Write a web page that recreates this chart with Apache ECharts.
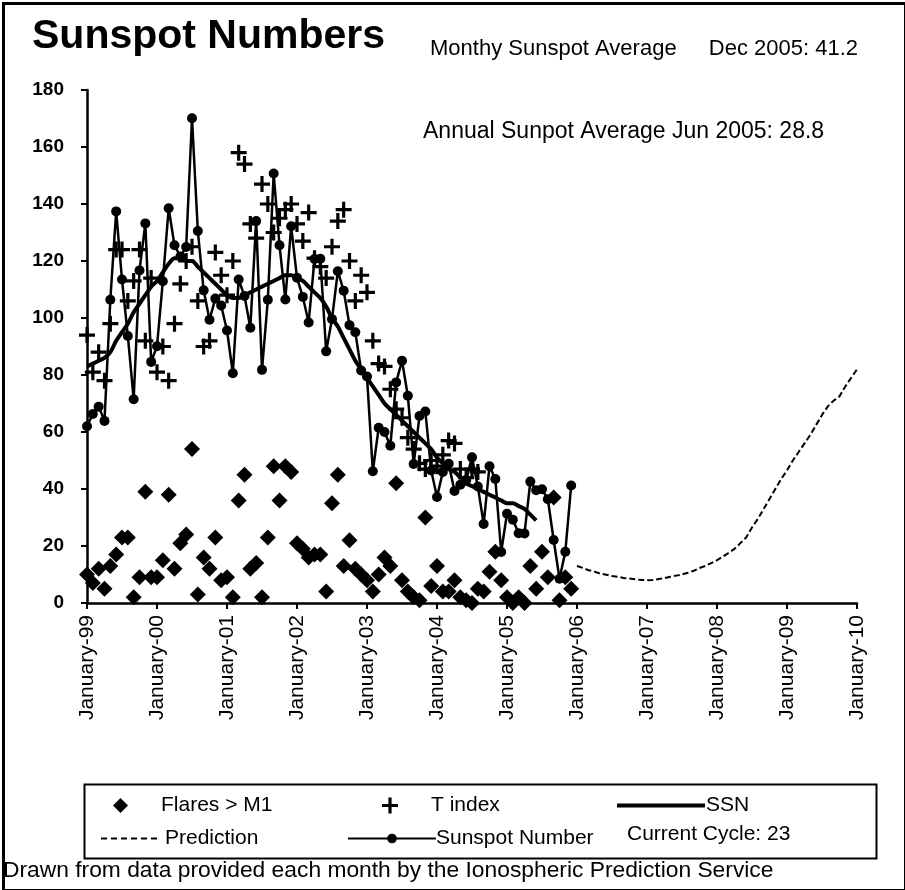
<!DOCTYPE html>
<html>
  <head>
    <meta charset="utf-8" />
    <title>Sunspot Numbers</title>
    <script src="https://cdn.jsdelivr.net/npm/echarts@6/dist/echarts.min.js"></script>
    <style>
      * {
        margin: 0;
        padding: 0;
      }
      html,
      body,
      #container {
        width: 905px;
        height: 890px;
        background: #fff;
      }
    </style>
  </head>
  <body>
    <div id="container"></div>
    <script>
      // month labels, Jan 1999 .. Jan 2010
      const monthNames = ["January", "February", "March", "April", "May", "June",
        "July", "August", "September", "October", "November", "December"];
      const years = ["99", "00", "01", "02", "03", "04", "05", "06", "07", "08", "09", "10"];
      const categories = [];
      years.forEach((y) => monthNames.forEach((m) => categories.push(m + "-" + y)));
      categories.length = 133;

      // Sunspot Number, monthly, Jan 1999 .. Dec 2005
      const sunspotNumber = [
        62.0, 66.3, 68.9, 63.9, 106.4, 137.4, 113.5, 93.7, 71.5, 116.7, 133.2, 84.6,
        90.1, 112.9, 138.5, 125.5, 121.6, 124.9, 170.1, 130.5, 109.7, 99.4, 106.8, 104.4,
        95.6, 80.6, 113.5, 107.7, 96.6, 134.0, 81.8, 106.4, 150.7, 125.5, 106.5, 132.2,
        114.1, 107.4, 98.4, 120.7, 120.8, 88.3, 99.6, 116.4, 109.6, 97.5, 95.0, 81.6,
        79.5, 46.2, 61.5, 60.0, 55.2, 77.4, 85.0, 72.7, 48.8, 65.6, 67.2, 46.5,
        37.2, 46.0, 48.9, 39.3, 41.5, 43.2, 51.1, 40.9, 27.7, 48.0, 43.5, 17.9,
        31.3, 29.2, 24.5, 24.4, 42.6, 39.6, 39.9, 36.4, 22.1, 8.5, 18.0, 41.2
      ];

      // smoothed SSN, Jan 1999 .. Jun 2005
      const ssn = [
        83, 84, 85, 86, 88, 92, 95, 98, 102, 105, 108, 111,
        113, 116, 119, 121, 121, 120, 120, 118, 116, 114, 112, 110,
        108, 107, 107, 108, 109, 110, 111, 112, 113, 114, 115, 115,
        114, 113, 111, 109, 107, 104, 100, 97, 93, 89, 85, 82,
        79, 76, 73, 70, 68, 66, 64, 62, 60, 58, 56, 54,
        51, 49, 47, 46, 44, 42, 41, 40, 39, 38, 37, 36,
        35, 35, 34, 33, 31, 29
      ];

      // T index, Jan 1999 .. Aug 2004
      const tIndex = [
        94, 81, 88, 78, 98, 124, 124, 106, 113, 124, 92, 114,
        81, 90, 78, 98, 112, 120, 125, 106, 90, 92, 123, 115,
        108, 120, 158, 154, 133, 128, 147, 140, 130, 135, 138, 140,
        133, 127, 137, 121, 118, 114, 125, 134, 138, 120, 106, 115,
        109, 92, 84, 83, 75, 68, 65, 58, 54, 49, 47, 50,
        48, 52, 57, 56, 47, 44, 47, 46
      ];

      // Flares > M1 per month, Jan 1999 .. Dec 2005
      const flares = [
        10, 7, 12, 5, 13, 17, 23, 23, 2, 9, 39, 9,
        9, 15, 38, 12, 21, 24, 54, 3, 16, 12, 23, 8,
        9, 2, 36, 45, 12, 14, 2, 23, 48, 36, 48, 46,
        21, 19, 16, 17, 17, 4, 35, 45, 13, 22, 12, 10,
        8, 4, 10, 16, 13, 42, 8, 4, 2, 1, 30, 6,
        13, 4, 4, 8, 2, 1, 0, 5, 4, 11, 18, 8,
        2, 0, 2, 0, 13, 5, 18, 9, 37, 1, 9, 5
      ];

      // prediction, Jan 2006 .. Jan 2010
      const predictionStart = 84;
      const prediction = [
        13.0, 12.3, 11.5, 11.0, 10.3, 9.9, 9.5, 9.2, 8.8, 8.6, 8.3, 8.1,
        8.0, 8.1, 8.4, 8.7, 9.2, 9.6, 10.0, 10.6, 11.3, 12.3, 13.0, 14.0,
        15.0, 16.3, 17.6, 19.0, 21.0, 23.0, 26.5, 29.5, 33.0, 36.5, 40.0, 43.5,
        46.5, 50.0, 53.0, 56.0, 59.0, 62.5, 66.0, 69.0, 71.0, 72.5, 76.0, 79.0,
        82.0
      ];
      const predictionData = new Array(predictionStart).fill(null).concat(prediction);

      const plusIcon = "path://M4,0 L6,0 L6,4 L10,4 L10,6 L6,6 L6,10 L4,10 L4,6 L0,6 L0,4 L4,4 Z";
      const ssnIcon = "path://M0,0h88v4h-88z";
      const dashIcon = "path://M0,0h6v2h-6z M10,0h6v2h-6z M20,0h6v2h-6z M30,0h6v2h-6z M40,0h6v2h-6z M50,0h6v2h-6z";
      const font = "Arial, 'Liberation Sans', sans-serif";
      const legendText = { color: "#000", fontSize: 21, fontFamily: font };

      const myChart = echarts.init(document.getElementById("container"));
      myChart.setOption({
        animation: false,
        backgroundColor: "#fff",
        title: {
          text: "Sunspot Numbers",
          left: 27,
          top: 11,
          textStyle: { fontSize: 41, fontWeight: "bold", color: "#000", fontFamily: font }
        },
        grid: { left: 87, right: 48, top: 90, bottom: 287 },
        xAxis: {
          type: "category",
          data: categories,
          boundaryGap: false,
          axisLine: { lineStyle: { color: "#000", width: 2.5 } },
          axisTick: { interval: 11, length: 6, lineStyle: { color: "#000", width: 2 } },
          axisLabel: {
            interval: 11,
            rotate: 90,
            margin: 12,
            color: "#000",
            fontSize: 21,
            fontFamily: font
          },
          splitLine: { show: false }
        },
        yAxis: {
          type: "value",
          min: 0,
          max: 180,
          interval: 20,
          axisLine: { show: true, lineStyle: { color: "#000", width: 2.5 } },
          axisTick: { show: true, length: 6, lineStyle: { color: "#000", width: 2 } },
          axisLabel: { color: "#000", fontSize: 19, fontWeight: "bold", fontFamily: font, margin: 23 },
          splitLine: { show: false }
        },
        legend: [
          {
            data: ["Flares > M1"], left: 108, top: 790, selectedMode: false,
            itemWidth: 15, itemHeight: 15, textStyle: Object.assign({ padding: [0, 0, 0, 28] }, legendText)
          },
          {
            data: ["T index"], left: 377, top: 790, selectedMode: false,
            itemWidth: 16, itemHeight: 16, textStyle: Object.assign({ padding: [0, 0, 0, 28] }, legendText)
          },
          {
            data: [{ name: "SSN", icon: ssnIcon }], left: 612, top: 790, selectedMode: false,
            itemWidth: 88, itemHeight: 4, textStyle: Object.assign({ padding: [0, 0, 0, -4] }, legendText)
          },
          {
            data: [{ name: "Prediction", icon: dashIcon }], left: 96, top: 823, selectedMode: false,
            itemWidth: 56, itemHeight: 2, textStyle: Object.assign({ padding: [0, 0, 0, 3] }, legendText)
          },
          {
            data: ["Sunspot Number"], left: 342, top: 823, selectedMode: false,
            itemWidth: 88, itemHeight: 12, textStyle: Object.assign({ padding: [0, 0, 0, -5] }, legendText)
          }
        ],
        graphic: [
          { type: "rect", left: 1, top: 1, shape: { width: 902, height: 887 },
            style: { fill: "none", stroke: "#000", lineWidth: 3 }, silent: true },
          { type: "rect", left: 82, top: 782, shape: { width: 792, height: 74 },
            style: { fill: "none", stroke: "#000", lineWidth: 2 }, silent: true },
          { type: "text", left: 430, top: 38,
            style: { text: "Monthy Sunspot Average", fill: "#000", font: "22px " + font } },
          { type: "text", right: 47, top: 38,
            style: { text: "Dec 2005: 41.2", fill: "#000", font: "22px " + font } },
          { type: "text", left: 423, top: 120,
            style: { text: "Annual Sunpot Average Jun 2005: 28.8", fill: "#000", font: "23px " + font } },
          { type: "text", left: 627, top: 824,
            style: { text: "Current Cycle: 23", fill: "#000", font: "21px " + font } },
          { type: "text", left: 3, top: 859,
            style: { text: "Drawn from data provided each month by the Ionospheric Prediction Service", fill: "#000", font: "22.8px " + font } }
        ],
        series: [
          {
            name: "Flares > M1",
            type: "scatter",
            data: flares,
            symbol: "diamond",
            symbolSize: 16,
            itemStyle: { color: "#000", opacity: 1 },
            z: 2
          },
          {
            name: "T index",
            type: "scatter",
            data: tIndex,
            symbol: plusIcon,
            symbolSize: 16,
            itemStyle: { color: "#000", opacity: 1 },
            z: 3
          },
          {
            name: "SSN",
            type: "line",
            data: ssn,
            smooth: 0.3,
            showSymbol: false,
            symbol: "none",
            lineStyle: { color: "#000", width: 4 },
            itemStyle: { color: "#000" },
            z: 4
          },
          {
            name: "Prediction",
            type: "line",
            data: predictionData,
            showSymbol: false,
            symbol: "none",
            lineStyle: { color: "#000", width: 2, type: [6, 3] },
            itemStyle: { color: "#000" },
            z: 4
          },
          {
            name: "Sunspot Number",
            type: "line",
            data: sunspotNumber,
            symbol: "circle",
            symbolSize: 10,
            showAllSymbol: true,
            lineStyle: { color: "#000", width: 2.5 },
            itemStyle: { color: "#000" },
            z: 5
          }
        ]
      });
    </script>
  </body>
</html>
